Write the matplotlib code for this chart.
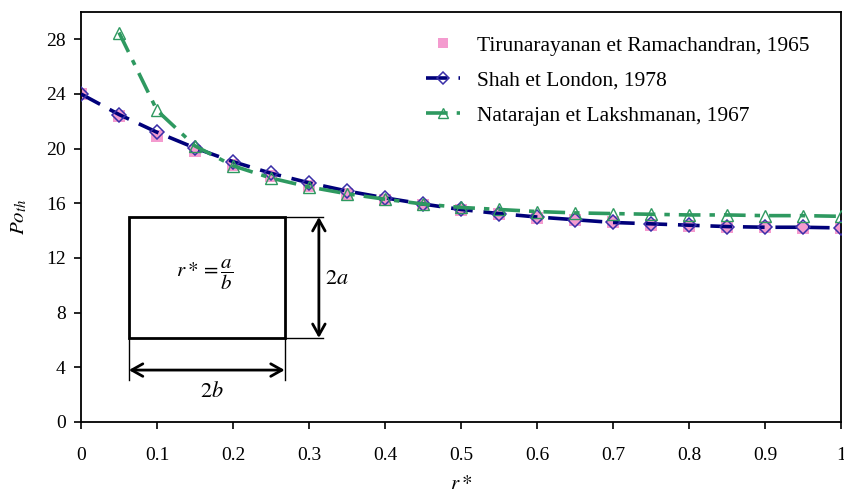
import matplotlib
matplotlib.use("Agg")
import matplotlib.pyplot as plt
import numpy as np

plt.rcParams["font.family"] = ["Liberation Serif", "DejaVu Serif"]
plt.rcParams["mathtext.fontset"] = "stix"

# aspect ratio r* = a/b
r_star = [0.0, 0.05, 0.1, 0.15, 0.2, 0.25, 0.3, 0.35, 0.4, 0.45, 0.5,
          0.55, 0.6, 0.65, 0.7, 0.75, 0.8, 0.85, 0.9, 0.95, 1.0]

# Tirunarayanan et Ramachandran, 1965
po_tiru = [24.0, 22.4, 20.95, 19.8, 18.8, 18.0, 17.3, 16.7, 16.25, 15.85, 15.5,
           15.2, 14.95, 14.75, 14.6, 14.45, 14.35, 14.3, 14.25, 14.2, 14.2]

# Shah et London, 1978
po_shah = [24.0, 22.5, 21.2, 20.05, 19.05, 18.2, 17.5, 16.9, 16.4, 15.95, 15.55,
           15.25, 15.0, 14.8, 14.6, 14.5, 14.4, 14.3, 14.25, 14.25, 14.2]

# Natarajan et Lakshmanan, 1967 (no value at r* = 0)
r_nat = r_star[1:]
po_nat = [28.5, 22.8, 20.2, 18.75, 17.85, 17.2, 16.7, 16.3, 15.95, 15.7,
          15.55, 15.4, 15.3, 15.25, 15.2, 15.15, 15.15, 15.1, 15.1, 15.05]

PINK = "#F49BCF"
NAVY = "#00007A"
DIAM = "#3A2FA8"
GREEN = "#2E9960"

fig = plt.figure(figsize=(8.44, 4.97), dpi=100)
ax = fig.add_axes([81 / 844, 1 - 422 / 497, 760 / 844, 410 / 497])

ax.plot(r_star, po_tiru, "s", color=PINK, markersize=8.5, markeredgewidth=0,
        linestyle="none", label="Tirunarayanan et Ramachandran, 1965", zorder=2)
ax.plot(r_star, po_shah, color=NAVY, linewidth=2.6, dashes=(6, 3),
        marker="D", markersize=7, markerfacecolor="none",
        markeredgecolor=DIAM, markeredgewidth=1.1,
        label="Shah et London, 1978", zorder=3)
ax.plot(r_nat, po_nat, color=GREEN, linewidth=2.6, dashes=(6, 2.5, 1.5, 2.5),
        marker="^", markersize=8, markerfacecolor="none",
        markeredgecolor=GREEN, markeredgewidth=1.0,
        label="Natarajan et Lakshmanan, 1967", zorder=3)

ax.set_xlim(0, 1)
ax.set_ylim(0, 30)
ax.set_xticks(np.arange(0, 1.01, 0.1))
ax.set_xticklabels(["0", "0.1", "0.2", "0.3", "0.4", "0.5", "0.6", "0.7",
                    "0.8", "0.9", "1"])
ax.set_yticks(range(0, 29, 4))
ax.tick_params(direction="out", length=5, width=1.2, labelsize=14, pad=6)
ax.tick_params(axis="x", pad=13)
for s in ax.spines.values():
    s.set_linewidth(1.3)

ax.set_xlabel(r"$r*$", fontsize=15, labelpad=8)
ax.set_ylabel(r"$Po_{th}$", fontsize=15, labelpad=12)

# inset sketch of the rectangular cross-section
x0, x1 = 0.063, 0.268
y0, y1 = 6.15, 15.0
ax.add_patch(plt.Rectangle((x0, y0), x1 - x0, y1 - y0, fill=False,
                           edgecolor="black", linewidth=2.0, zorder=1))
ax.plot([x1, 0.318], [y1, y1], color="black", linewidth=1.0)
ax.plot([x1, 0.318], [y0, y0], color="black", linewidth=1.0)
ax.plot([x0, x0], [y0, 3.05], color="black", linewidth=1.0)
ax.plot([x1, x1], [y0, 3.05], color="black", linewidth=1.0)
ax.annotate("", xy=(0.313, y1), xytext=(0.313, y0),
            arrowprops=dict(arrowstyle="<->,head_length=0.8,head_width=0.45",
                            linewidth=2.0, color="black", shrinkA=0, shrinkB=0))
ax.annotate("", xy=(x0, 3.8), xytext=(x1, 3.8),
            arrowprops=dict(arrowstyle="<->,head_length=0.8,head_width=0.45",
                            linewidth=2.0, color="black", shrinkA=0, shrinkB=0))
ax.text(0.337, 10.45, r"$2a$", fontsize=16, ha="center", va="center")
ax.text(0.172, 2.2, r"$2b$", fontsize=16, ha="center", va="center")
ax.text(0.163, 10.8, r"$r* = \dfrac{a}{b}$", fontsize=15, ha="center", va="center")

leg = ax.legend(loc="upper left", bbox_to_anchor=(0.428, 0.99), frameon=False,
                fontsize=15.5, handlelength=1.6, labelspacing=0.7,
                handletextpad=0.8, markerscale=0.9)

fig.savefig("out.png", dpi=100)
